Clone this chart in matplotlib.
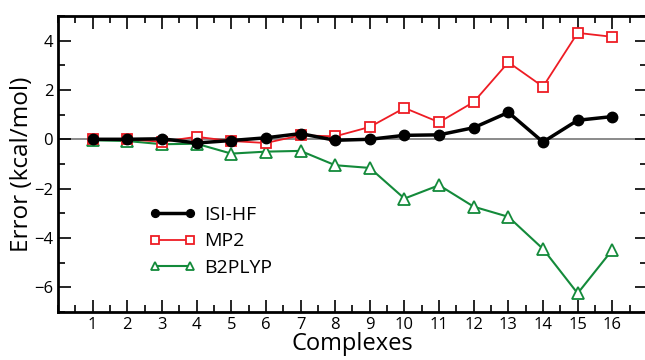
import matplotlib
matplotlib.use('Agg')
import matplotlib.pyplot as plt
from matplotlib.ticker import MultipleLocator

complexes = list(range(1, 17))
isi_hf = [0.0, 0.0, 0.02, -0.15, -0.05, 0.06, 0.23, -0.04, 0.0, 0.16, 0.18, 0.47, 1.09, -0.11, 0.77, 0.92]
mp2 = [0.0, 0.0, -0.1, 0.1, -0.07, -0.15, 0.16, 0.12, 0.5, 1.27, 0.69, 1.51, 3.12, 2.13, 4.31, 4.15]
b2plyp = [-0.04, -0.07, -0.2, -0.18, -0.58, -0.5, -0.47, -1.05, -1.16, -2.4, -1.86, -2.73, -3.14, -4.44, -6.24, -4.48]

plt.rcParams['font.family'] = ['Open Sans', 'DejaVu Sans']

fig = plt.figure(figsize=(6.45, 3.6), dpi=100)
ax = fig.add_axes([0.09, 0.133, 0.913, 0.823])

ax.axhline(0, color='#777777', lw=1.2, zorder=1)
ax.plot(complexes, isi_hf, '-o', color='black', lw=2.5, ms=7.5, label='ISI-HF', zorder=4)
ax.plot(complexes, mp2, '-s', color='#ee1c24', lw=1.3, ms=7, mfc='white', mew=1.3, label='MP2', zorder=3)
ax.plot(complexes, b2plyp, '-^', color='#138a3a', lw=1.5, ms=8, mfc='white', mew=1.3, label='B2PLYP', zorder=2)

ax.set_xlim(0, 17)
ax.set_ylim(-7, 5)
ax.set_xticks(complexes)
ax.xaxis.set_minor_locator(MultipleLocator(0.5))
ax.yaxis.set_major_locator(MultipleLocator(2))
ax.yaxis.set_minor_locator(MultipleLocator(1))
ax.tick_params(which='both', direction='in', top=True, right=True, labelsize=12, width=1.2)
ax.tick_params(which='major', length=9)
ax.tick_params(which='minor', length=5)
for s in ax.spines.values():
    s.set_linewidth(2)

ax.set_xlabel('Complexes', fontsize=17, labelpad=-1)
ax.set_ylabel('Error (kcal/mol)', fontsize=17.5, labelpad=0)

ax.legend(loc='upper left', bbox_to_anchor=(0.132, 0.405), frameon=False, fontsize=14,
          handlelength=2.4, labelspacing=0.45, handletextpad=0.4, numpoints=2,
          markerscale=0.75, borderaxespad=0.3)

fig.savefig('out.png', dpi=100)
